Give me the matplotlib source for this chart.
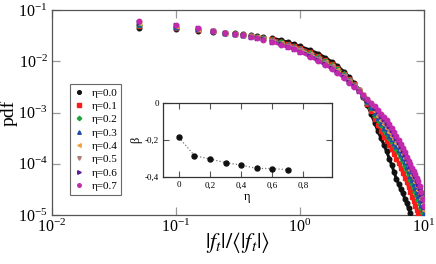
import numpy as np
import matplotlib
matplotlib.use("Agg")
import matplotlib.pyplot as plt
from matplotlib.ticker import LogLocator, NullLocator, FixedLocator, FixedFormatter

plt.rcParams['font.family'] = ['Liberation Serif', 'DejaVu Serif']
plt.rcParams['mathtext.fontset'] = 'stix'

# ---------------- data ----------------
x_vals = [0.05, 0.1, 0.15, 0.2, 0.25, 0.3, 0.35, 0.4, 0.45, 0.5,
          0.6, 0.7, 0.8, 0.9, 1.0, 1.2, 1.4, 1.6, 1.8, 2.0,
          2.25, 2.5, 2.75, 3.0, 3.25, 3.5, 3.75, 4.0, 4.25, 4.5,
          4.75, 5.0, 5.25, 5.5, 5.75, 6.0, 6.25, 6.5, 6.75, 7.0,
          7.25, 7.5, 7.75, 8.0, 8.25, 8.5, 8.75, 9.0, 9.25, 9.5,
          9.75, 10.0]

# log10(pdf) per eta
logpdf_eta00 = [-1.36, -1.38, -1.41, -1.42, -1.44, -1.45, -1.47, -1.49, -1.50, -1.52,
                -1.55, -1.59, -1.63, -1.67, -1.71, -1.78, -1.85, -1.93, -2.01, -2.09,
                -2.20, -2.31, -2.43, -2.56, -2.70, -2.86, -3.03, -3.20, -3.36, -3.50,
                -3.63, -3.76, -3.90, -4.03, -4.17, -4.30, -4.40, -4.50, -4.58, -4.68,
                -4.77, -4.87, -4.96]
logpdf_eta01 = [-1.32, -1.35, -1.39, -1.41, -1.44, -1.46, -1.48, -1.50, -1.52, -1.54,
                -1.57, -1.62, -1.66, -1.70, -1.74, -1.82, -1.90, -1.97, -2.05, -2.13,
                -2.24, -2.34, -2.45, -2.56, -2.69, -2.83, -2.98, -3.12, -3.25, -3.36,
                -3.47, -3.56, -3.64, -3.72, -3.81, -3.90, -3.99, -4.09, -4.18, -4.27,
                -4.36, -4.45, -4.55, -4.64, -4.73, -4.82, -4.90, -4.97, -5.04]
logpdf_eta02 = [-1.29, -1.34, -1.38, -1.41, -1.44, -1.46, -1.48, -1.50, -1.52, -1.55,
                -1.59, -1.63, -1.68, -1.72, -1.76, -1.84, -1.92, -1.99, -2.07, -2.15,
                -2.25, -2.36, -2.46, -2.56, -2.68, -2.80, -2.92, -3.04, -3.15, -3.25,
                -3.34, -3.42, -3.50, -3.57, -3.64, -3.72, -3.79, -3.87, -3.95, -4.04,
                -4.13, -4.22, -4.31, -4.39, -4.47, -4.55, -4.63, -4.71, -4.79, -4.87,
                -4.96, -5.05]
logpdf_eta03 = [-1.28, -1.33, -1.38, -1.41, -1.44, -1.46, -1.48, -1.51, -1.53, -1.55,
                -1.59, -1.64, -1.69, -1.73, -1.77, -1.85, -1.93, -2.01, -2.09, -2.17,
                -2.27, -2.37, -2.47, -2.56, -2.67, -2.78, -2.89, -3.01, -3.11, -3.21,
                -3.30, -3.38, -3.45, -3.52, -3.59, -3.66, -3.73, -3.81, -3.89, -3.97,
                -4.06, -4.15, -4.23, -4.31, -4.39, -4.47, -4.55, -4.63, -4.71, -4.80,
                -4.89, -4.98]
logpdf_eta04 = [-1.26, -1.32, -1.37, -1.41, -1.44, -1.46, -1.48, -1.51, -1.53, -1.56,
                -1.60, -1.65, -1.70, -1.74, -1.78, -1.86, -1.95, -2.02, -2.10, -2.18,
                -2.28, -2.38, -2.48, -2.57, -2.66, -2.76, -2.86, -2.97, -3.06, -3.15,
                -3.23, -3.31, -3.38, -3.45, -3.52, -3.59, -3.66, -3.74, -3.81, -3.89,
                -3.97, -4.05, -4.13, -4.21, -4.28, -4.36, -4.44, -4.52, -4.60, -4.69,
                -4.79, -4.90]
logpdf_eta05 = [-1.25, -1.31, -1.37, -1.40, -1.44, -1.47, -1.49, -1.51, -1.54, -1.57,
                -1.61, -1.66, -1.71, -1.75, -1.79, -1.88, -1.96, -2.04, -2.12, -2.20,
                -2.29, -2.39, -2.48, -2.57, -2.66, -2.75, -2.84, -2.94, -3.02, -3.10,
                -3.18, -3.25, -3.32, -3.39, -3.46, -3.53, -3.61, -3.68, -3.76, -3.84,
                -3.92, -4.00, -4.07, -4.15, -4.22, -4.29, -4.37, -4.45, -4.54, -4.64,
                -4.75, -4.87]
logpdf_eta06 = [-1.23, -1.30, -1.36, -1.40, -1.44, -1.47, -1.49, -1.52, -1.54, -1.57,
                -1.62, -1.67, -1.72, -1.76, -1.81, -1.89, -1.98, -2.05, -2.13, -2.21,
                -2.30, -2.41, -2.49, -2.58, -2.66, -2.75, -2.83, -2.91, -2.98, -3.06,
                -3.13, -3.20, -3.27, -3.35, -3.42, -3.50, -3.58, -3.65, -3.73, -3.81,
                -3.89, -3.97, -4.04, -4.11, -4.18, -4.24, -4.31, -4.39, -4.48, -4.59,
                -4.71, -4.84]
logpdf_eta07 = [-1.21, -1.29, -1.35, -1.40, -1.44, -1.47, -1.49, -1.52, -1.55, -1.58,
                -1.63, -1.68, -1.73, -1.77, -1.82, -1.91, -2.00, -2.07, -2.15, -2.23,
                -2.32, -2.42, -2.50, -2.58, -2.66, -2.74, -2.81, -2.88, -2.95, -3.02,
                -3.09, -3.15, -3.23, -3.30, -3.38, -3.46, -3.54, -3.62, -3.70, -3.78,
                -3.86, -3.94, -4.01, -4.08, -4.14, -4.20, -4.27, -4.34, -4.43, -4.55,
                -4.68, -4.82]

eta_labels = ['η=0.0', 'η=0.1', 'η=0.2', 'η=0.3', 'η=0.4', 'η=0.5', 'η=0.6', 'η=0.7']

# inset data
eta_vals = [0.0, 0.1, 0.2, 0.3, 0.4, 0.5, 0.6, 0.7]
beta_vals = [-0.184, -0.283, -0.301, -0.321, -0.334, -0.352, -0.353, -0.359]

# ---------------- styles ----------------
series = [logpdf_eta00, logpdf_eta01, logpdf_eta02, logpdf_eta03,
          logpdf_eta04, logpdf_eta05, logpdf_eta06, logpdf_eta07]
colors = ['#111111', '#ff1a1a', '#1fa23a', '#1f4fa8', '#f5a040', '#b07a7a', '#5a1a9a', '#c22aae']
markers = ['o', 's', 'D', '^', '<', 'v', '>', 'o']
msizes = [3.3, 2.8, 2.8, 3.2, 3.2, 3.2, 3.2, 3.2]

fig = plt.figure(figsize=(4.36, 2.64), dpi=100)
ax = fig.add_axes([52/436, 1-215/264, 372/436, 205/264])

for ys, c, m, ms, lab in zip(series, colors, markers, msizes, eta_labels):
    xs = np.array(x_vals[:len(ys)])
    ps = 10.0 ** np.array(ys)
    ax.plot(xs[10:], ps[10:], '-', color=c, lw=2.2, solid_capstyle='round', zorder=2)
    ax.plot(xs, ps, linestyle='none', marker=m, ms=ms, color=c, mec=c, label=lab, zorder=3)

ax.set_xscale('log')
ax.set_yscale('log')
ax.set_xlim(1e-2, 1e1)
ax.set_ylim(1e-5, 1e-1)
ax.xaxis.set_major_locator(LogLocator(base=10, numticks=10))
ax.yaxis.set_major_locator(LogLocator(base=10, numticks=10))
ax.xaxis.set_minor_locator(NullLocator())
ax.yaxis.set_minor_locator(NullLocator())
ax.tick_params(which='major', direction='in', top=True, right=True, length=6,
               width=0.9, color='#999999', labelsize=11.5, pad=3)
for s in ax.spines.values():
    s.set_color('#555555')
    s.set_linewidth(0.9)

ax.set_ylabel('pdf', fontsize=14)
ax.yaxis.set_label_coords(-0.092, 0.5)
ax.set_xlabel(r'$|f_t|/\langle|f_t|\rangle$', fontsize=16)
ax.xaxis.set_label_coords(0.5, -0.075)

leg = ax.legend(loc='upper left', bbox_to_anchor=(70/436, 1-84/264), bbox_transform=fig.transFigure,
                borderaxespad=0, fontsize=8, frameon=True, fancybox=False, handlelength=1.0,
                handletextpad=0.6, labelspacing=0.32, borderpad=0.35, markerscale=0.8)
leg.get_frame().set_edgecolor('#444444')
leg.get_frame().set_linewidth(0.8)

# ---------------- inset ----------------
ax2 = fig.add_axes([163.3/436, 1-177.3/264, 168.2/436, 74/264])
ax2.plot(eta_vals, beta_vals, linestyle=':', color='#777777', lw=0.9, marker='o',
         ms=3.6, mfc='#111111', mec='#111111')
ax2.set_xlim(-0.1, 0.98)
ax2.set_ylim(-0.4, 0.0)
ax2.xaxis.set_major_locator(FixedLocator([0, 0.2, 0.4, 0.6, 0.8]))
ax2.xaxis.set_major_formatter(FixedFormatter(['0', '0,2', '0,4', '0,6', '0,8']))
ax2.yaxis.set_major_locator(FixedLocator([-0.4, -0.2, 0.0]))
ax2.yaxis.set_major_formatter(FixedFormatter(['-0,4', '-0,2', '0']))
ax2.tick_params(direction='in', top=True, right=True, length=4, width=0.8,
                color='#555555', labelsize=6.5, pad=3)
for s in ax2.spines.values():
    s.set_color('#333333')
    s.set_linewidth(0.9)
ax2.set_xlabel('η', fontsize=9, labelpad=1)
ax2.set_ylabel('β', fontsize=9, labelpad=2)

fig.savefig('out.png', dpi=100)
